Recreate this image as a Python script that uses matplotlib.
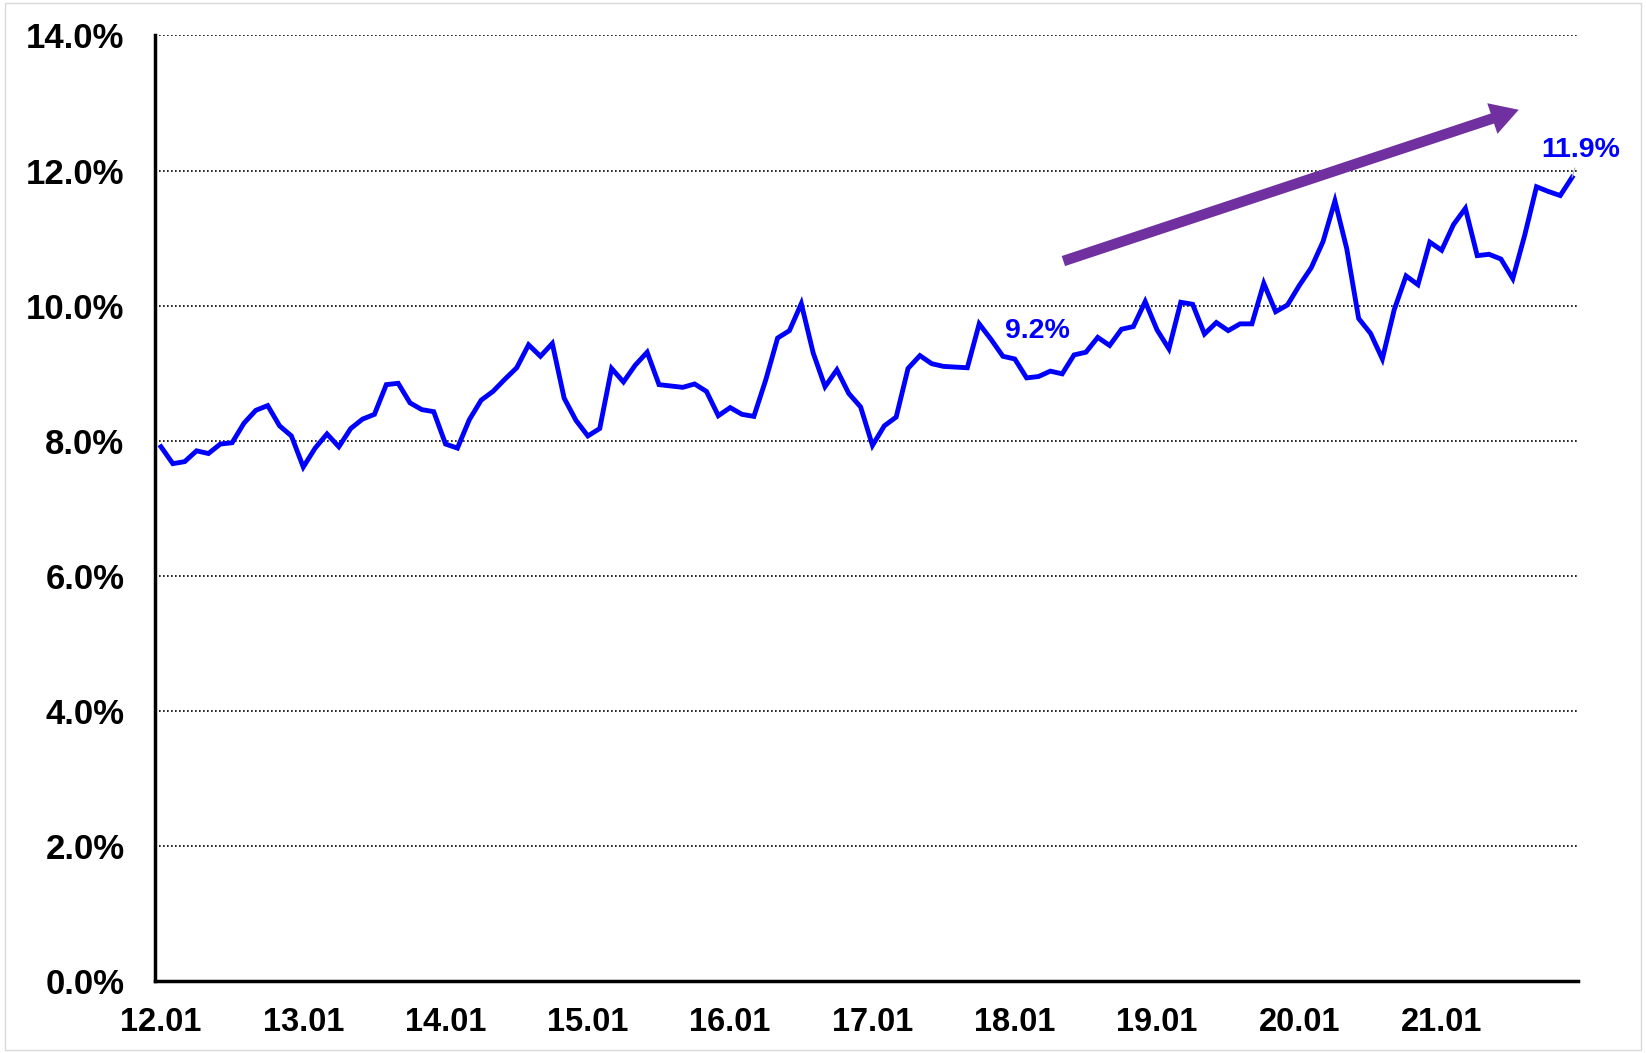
"""Monthly share (%) from 2012.01 to 2021.12, with trend arrow and callouts."""

import matplotlib

matplotlib.use("Agg")
import matplotlib.pyplot as plt
import numpy as np
from matplotlib.patches import ArrowStyle, Rectangle
from matplotlib.ticker import FuncFormatter

# --- data (percent) ---------------------------------------------------------
rate_2012 = [7.91, 7.66, 7.69, 7.85, 7.81, 7.95, 7.97, 8.26, 8.45, 8.52, 8.22, 8.07]
rate_2013 = [7.61, 7.89, 8.10, 7.91, 8.18, 8.32, 8.39, 8.83, 8.85, 8.56, 8.46, 8.43]
rate_2014 = [7.95, 7.89, 8.31, 8.60, 8.73, 8.91, 9.08, 9.42, 9.25, 9.44, 8.63, 8.30]
rate_2015 = [8.07, 8.18, 9.07, 8.87, 9.12, 9.31, 8.83, 8.81, 8.79, 8.84, 8.73, 8.37]
rate_2016 = [8.49, 8.39, 8.36, 8.90, 9.52, 9.63, 10.03, 9.30, 8.80, 9.05, 8.70, 8.50]
rate_2017 = [7.93, 8.22, 8.35, 9.07, 9.26, 9.14, 9.10, 9.09, 9.08, 9.73, 9.50, 9.25]
rate_2018 = [9.21, 8.93, 8.95, 9.03, 8.99, 9.27, 9.31, 9.53, 9.41, 9.65, 9.69, 10.06]
rate_2019 = [9.64, 9.36, 10.05, 10.02, 9.58, 9.75, 9.63, 9.73, 9.73, 10.33, 9.91, 10.01]
rate_2020 = [10.30, 10.56, 10.95, 11.55, 10.84, 9.81, 9.59, 9.21, 9.94, 10.44, 10.31, 10.94]
rate_2021 = [10.82, 11.20, 11.44, 10.74, 10.76, 10.69, 10.40, 11.04, 11.76, 11.69, 11.63, 11.90]

year_labels = ["12.01", "13.01", "14.01", "15.01", "16.01",
               "17.01", "18.01", "19.01", "20.01", "21.01"]
y_ticks = [0, 2, 4, 6, 8, 10, 12, 14]

# callouts: (month index, text)
callouts = [(72, "9.2%"), (119, "11.9%")]
# trend arrow: (month index, percent) for tail and tip
arrow_tail = (76.1, 10.66)
arrow_tip = (114.5, 12.90)

LINE_BLUE = "#0000FF"
ARROW_PURPLE = "#7030A0"


def main() -> None:
    plt.rcParams["font.family"] = ["Liberation Sans", "DejaVu Sans"]
    plt.rcParams["font.weight"] = "bold"

    rate = np.array(rate_2012 + rate_2013 + rate_2014 + rate_2015 + rate_2016
                    + rate_2017 + rate_2018 + rate_2019 + rate_2020 + rate_2021)
    months = np.arange(len(rate))

    fig = plt.figure(figsize=(16.46, 10.53), dpi=100)
    ax = fig.add_axes([0.0942, 0.0684, 0.8645, 0.8979])

    # --- series -------------------------------------------------------------
    ax.plot(months, rate, color=LINE_BLUE, lw=3.5, solid_joinstyle="miter", zorder=3)

    # --- axes ---------------------------------------------------------------
    ax.set_xlim(-0.5, len(rate) - 0.5)
    ax.set_ylim(0, 14)
    ax.set_yticks(y_ticks)
    ax.yaxis.set_major_formatter(FuncFormatter(lambda v, _: f"{v:.1f}%"))
    ax.set_xticks(months[::12])
    ax.set_xticklabels(year_labels)
    ax.tick_params(axis="both", length=0)
    ax.tick_params(axis="y", pad=22, labelsize=25)
    ax.tick_params(axis="x", pad=19, labelsize=23.5)

    for side in ("top", "right"):
        ax.spines[side].set_visible(False)
    for side in ("left", "bottom"):
        ax.spines[side].set_linewidth(2.5)
        ax.spines[side].set_color("black")
        ax.spines[side].set_zorder(4)

    ax.yaxis.grid(True, color="black", lw=1.2, linestyle=(0, (1, 1.4)))
    ax.set_axisbelow(True)

    # --- callouts -------------------------------------------------------------
    offsets = {72: (16, 20), 119: (6, 20)}
    for idx, text in callouts:
        ax.annotate(
            text, xy=(months[idx], rate[idx]), xytext=offsets[idx],
            textcoords="offset points", ha="center", va="center",
            fontsize=20.5, fontweight="bold", color=LINE_BLUE,
            arrowprops=dict(arrowstyle="-", color="#b0b0b0", lw=0.8,
                            shrinkA=2, shrinkB=0) if idx == len(rate) - 1 else None,
            annotation_clip=False, zorder=5,
        )

    # --- trend arrow ------------------------------------------------------------
    ax.annotate(
        "", xy=arrow_tip, xytext=arrow_tail,
        arrowprops=dict(
            arrowstyle=ArrowStyle("simple", head_length=0.5, head_width=0.58,
                                  tail_width=0.19),
            mutation_scale=40, color=ARROW_PURPLE, lw=0, shrinkA=0, shrinkB=0,
        ),
        annotation_clip=False, zorder=4,
    )

    # thin light frame round the picture
    fig.patches.append(Rectangle((0.003, 0.003), 0.994, 0.994, transform=fig.transFigure,
                                 fill=False, edgecolor="#d9d9d9", lw=1.0))

    fig.savefig("out.png", dpi=100)
    plt.close(fig)


if __name__ == "__main__":
    main()
